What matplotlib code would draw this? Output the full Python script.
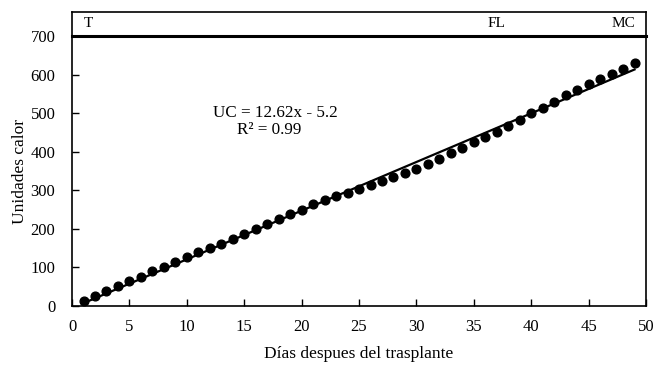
import numpy as np
import matplotlib.pyplot as plt

plt.rcParams['font.family'] = ['Liberation Serif', 'DejaVu Serif']

# días después del trasplante
dias = list(range(1, 50))
# unidades calor acumuladas
uc = [14, 27, 40, 52, 64, 76, 90, 102, 115, 127,
      141, 150, 162, 174, 187, 200, 213, 225, 238, 250,
      264, 275, 284, 294, 303, 313, 323, 334, 345, 356,
      369, 382, 396, 410, 424, 438, 452, 467, 482, 500,
      514, 530, 546, 561, 576, 589, 601, 615, 630]
# ajuste lineal UC = a*x + b
coef_a = 12.62
coef_b = -5.2
# etapas fenológicas
etapas = ["T", "FL", "MC"]
etapas_x = [1.4, 37.0, 48.0]

fig = plt.figure(figsize=(6.62, 3.65), dpi=100)
ax = fig.add_axes([0.1088, 0.1616, 0.8671, 0.7398])
band = fig.add_axes([0.1088, 0.9014, 0.8671, 0.0658])

x = np.array(dias)
ax.plot(x, coef_a * x + coef_b, color="black", lw=1.6, zorder=2)
ax.plot(dias, uc, "o", color="black", ms=6.3, zorder=3)

ax.set_xlim(0, 50)
ax.set_ylim(0, 700)
ax.set_xticks(range(0, 51, 5))
ax.set_yticks(range(0, 701, 100))
ax.tick_params(direction="in", length=5, width=1, labelsize=12)
ax.tick_params(axis="x", pad=9)
ax.tick_params(axis="y", pad=12)
for s in ax.spines.values():
    s.set_linewidth(1.2)
ax.spines["top"].set_visible(False)

ax.set_xlabel("Días despues del trasplante", fontsize=12.5, labelpad=8)
ax.set_ylabel("Unidades calor", fontsize=12.5, labelpad=2)

ax.text(17.7, 500, "UC = 12.62x - 5.2", fontsize=12.3, ha="center", va="center")
ax.text(17.2, 455, "R² = 0.99", fontsize=12.3, ha="center", va="center")

band.set_xlim(0, 50)
band.set_ylim(0, 1)
band.set_xticks([])
band.set_yticks([])
for s in band.spines.values():
    s.set_linewidth(1.2)
band.spines["bottom"].set_linewidth(2.2)
for lab, px in zip(etapas, etapas_x):
    band.text(px, 0.5, lab, fontsize=11, ha="center", va="center")

fig.savefig("out.png", dpi=100)
